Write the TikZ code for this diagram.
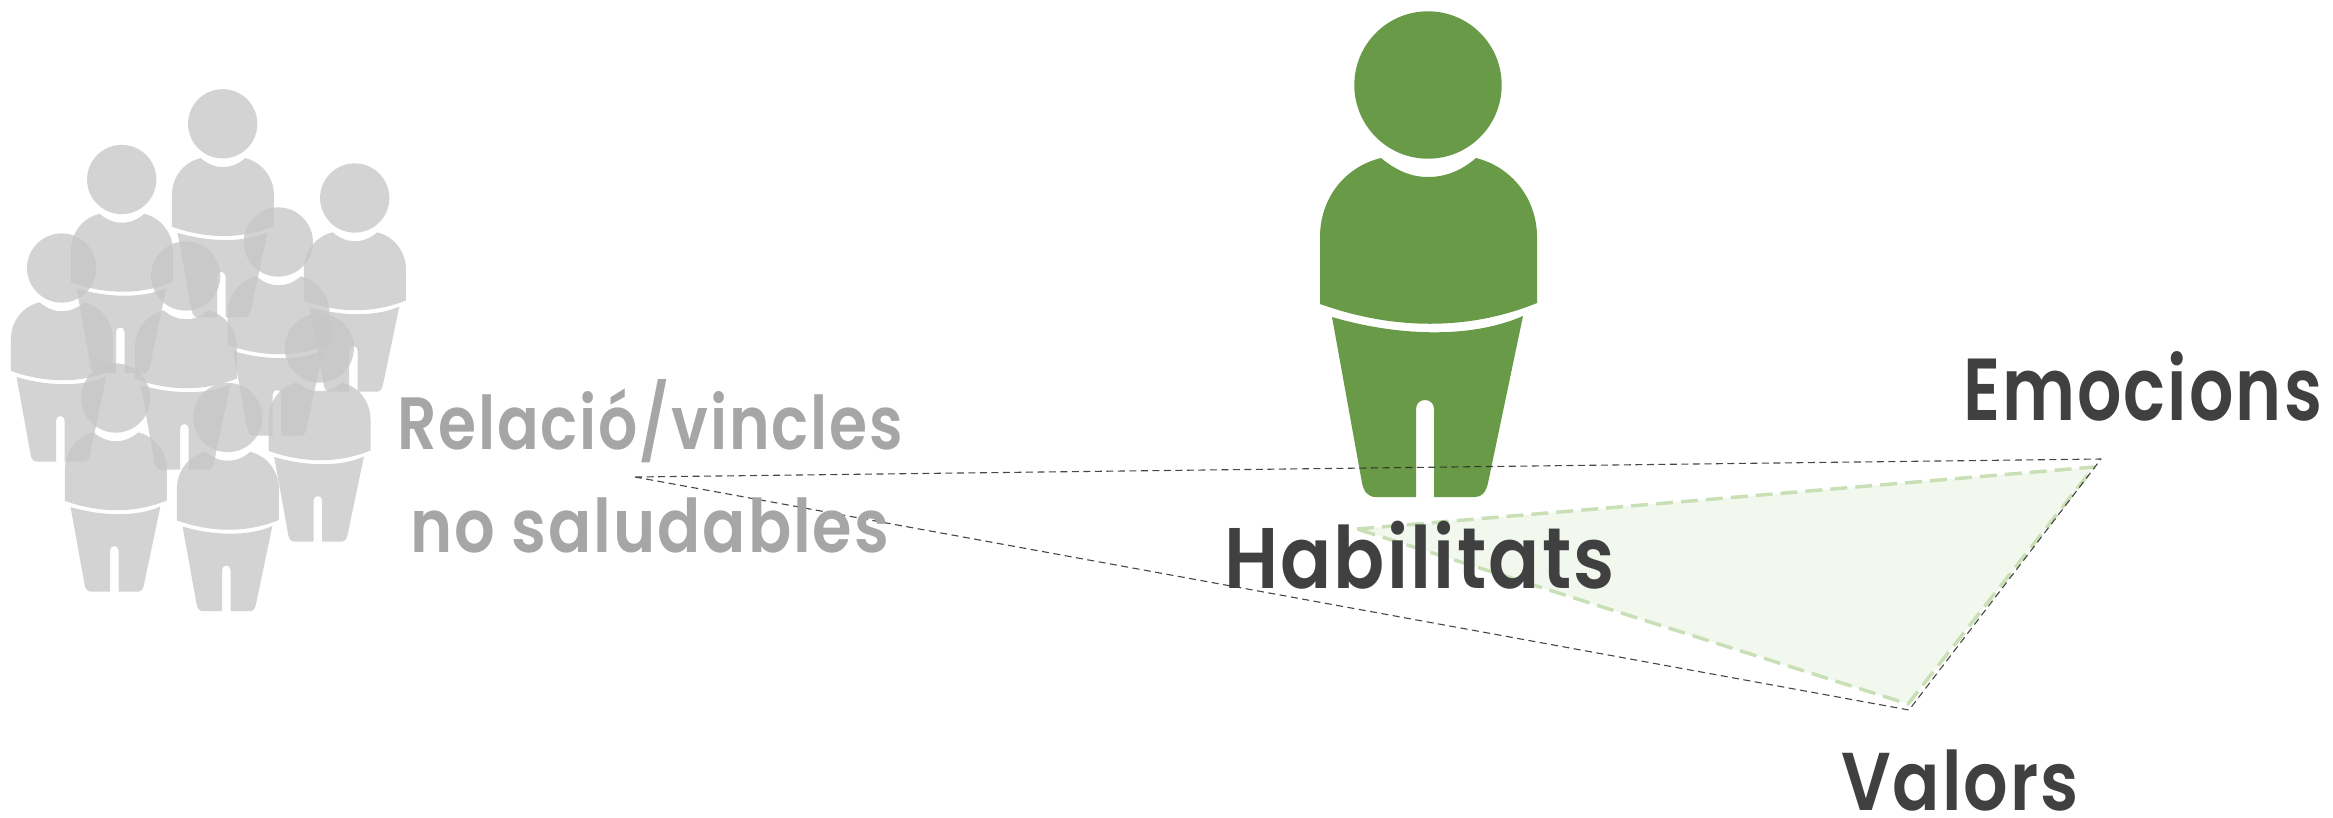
\documentclass[tikz,border=0pt]{standalone}
\usepackage{graphicx}
\usepackage{fontspec}
\setmainfont[LetterSpace=3]{Poppins SemiBold}
\definecolor{persongreen}{HTML}{699A47}
\definecolor{persongrey}{HTML}{C6C6C6}
\definecolor{trifill}{HTML}{F2F8EE}
\definecolor{tridash}{HTML}{C9E0B7}
\definecolor{inkdark}{HTML}{404040}
\definecolor{inkgrey}{HTML}{A6A6A6}
\newcommand{\fitted}[3]{\fontsize{#2}{#2}\selectfont\resizebox{#1}{\height}{#3}}
\tikzset{
  person/.pic={
    \path[pic actions]
      (0,0) circle[radius=73.7]
      (-47,73) .. controls (-30,87) and (-15,92) .. (0,92)
               .. controls (17,92) and (33,86) .. (48,73)
               .. controls (84,82) and (109,114) .. (109,152)
               -- (109,218)
               .. controls (40,246) and (-35,245) .. (-108,219)
               -- (-108,152)
               .. controls (-108,114) and (-84,82) .. (-47,73) -- cycle
      (-96,232) .. controls (-35,250) and (40,255) .. (95,231)
               -- (60,398) .. controls (58,407) and (54,412) .. (47,412)
               -- (6,412) -- (6,324)
               .. controls (6,312) and (-12,312) .. (-12,324)
               -- (-12,412) -- (-52,412)
               .. controls (-60,412) and (-64,407) .. (-66,398) -- cycle;
  },
  crowd/.style={fill=persongrey,fill opacity=.77,scale=.47},
  hero/.style={fill=persongreen},
  thin dash/.style={draw=black!85,draw opacity=.85,line width=1.1pt,dash pattern=on 7pt off 4.5pt},
  green tri/.style={draw=tridash,fill=trifill,line width=3.5pt,dash pattern=on 17pt off 8pt},
  label/.style={inner sep=0pt,outer sep=0pt,anchor=base west}
}
\begin{document}
\begin{tikzpicture}[x=1pt,y=-1pt,line join=round]
\useasboundingbox (0,0) rectangle (2333,817);
\pic[crowd] at (222.7,123.8) {person};
\pic[crowd] at (121.7,179.5) {person};
\pic[crowd] at (354.7,198) {person};
\pic[crowd] at (61.7,268) {person};
\pic[crowd] at (185.7,276) {person};
\pic[crowd] at (278.3,242) {person};
\pic[crowd] at (319.3,348) {person};
\pic[crowd] at (115.7,398) {person};
\pic[crowd] at (227.7,417.5) {person};
\pic[hero] at (1428,85) {person};
\coordinate (gl) at (1357,529);
\coordinate (gt) at (2094,467);
\coordinate (gb) at (1908,704);
\coordinate (kl) at (635,477);
\coordinate (kt) at (2101,459);
\coordinate (kb) at (1909,710);
\draw[green tri] (gl) -- (gt) -- (gb) -- cycle;
\draw[thin dash] (kl) -- (kt) -- (kb) -- cycle;
\node[label,text=inkgrey] (rel) at (397,449) {\fitted{506pt}{74}{Relació/vincles}};
\node[label,text=inkgrey] (nos) at (410,552) {\fitted{479pt}{74}{no saludables}};
\node[label,text=inkdark] (hab) at (1224,588) {\fitted{391pt}{86}{Habilitats}};
\node[label,text=inkdark] (emo) at (1963,420) {\fitted{359pt}{88}{Emocions}};
\node[label,text=inkdark] (val) at (1841,810) {\fitted{238pt}{82}{Valors}};
\end{tikzpicture}
\end{document}
